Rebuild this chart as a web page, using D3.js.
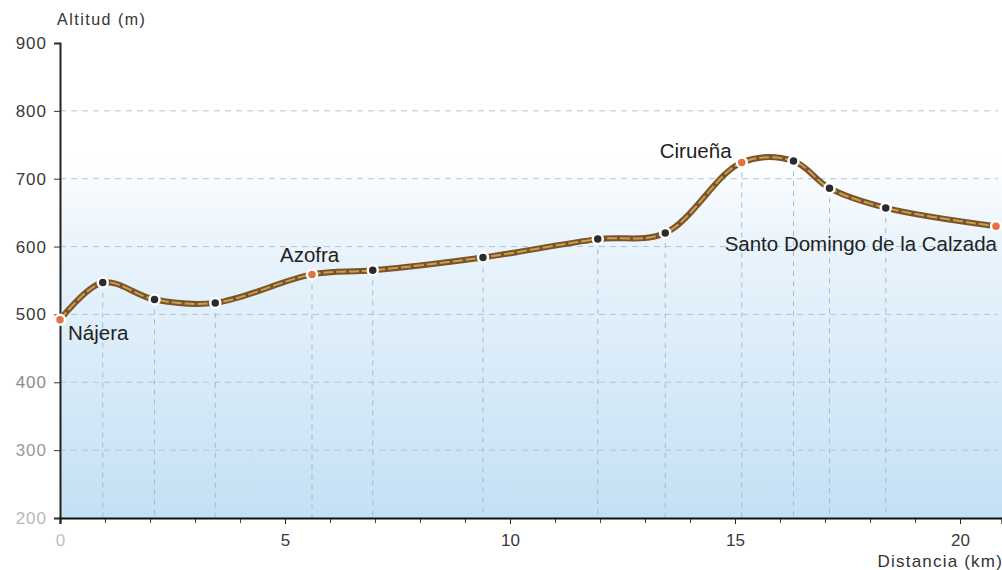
<!DOCTYPE html>
<html>
<head>
<meta charset="utf-8">
<script src="https://cdn.jsdelivr.net/npm/d3@7/dist/d3.min.js"></script>
<style>
  html, body { margin: 0; padding: 0; background: #fff; }
  svg { display: block; font-family: "Liberation Sans", Arial, sans-serif; }
</style>
</head>
<body>
<svg id="chart" width="1002" height="570"></svg>
<script>
// ---- data ----
const distKm = [0, 0.95, 2.1, 3.45, 5.6, 6.95, 9.4, 11.95, 13.45, 15.15, 16.3, 17.1, 18.35, 20.8];
const altM   = [492, 547, 522, 517, 559, 565, 584, 611, 620, 724, 726, 686, 657, 630];
const towns  = ["Nájera", "", "", "", "Azofra", "", "", "", "", "Cirueña", "", "", "", "Santo Domingo de la Calzada"];
const yTicks = [200, 300, 400, 500, 600, 700, 800, 900];
const yGrid  = [300, 400, 500, 600, 700, 800];
const xLabelTicks = [0, 5, 10, 15, 20];
const xMinorTicks = d3.range(0, 21, 1);

const svg = d3.select("#chart");
const x = d3.scaleLinear().domain([0, 942 / 45]).range([60, 1002]);
const y = d3.scaleLinear().domain([200, 900]).range([518, 43]);

const pts = distKm.map((d, i) => ({ d, a: altM[i], name: towns[i] }));

// background gradient
const defs = svg.append("defs");
const grad = defs.append("linearGradient").attr("id", "bg").attr("x1", 0).attr("y1", 0).attr("x2", 0).attr("y2", 1);
grad.append("stop").attr("offset", "0%").attr("stop-color", "#ffffff");
grad.append("stop").attr("offset", "24%").attr("stop-color", "#ffffff");
grad.append("stop").attr("offset", "42%").attr("stop-color", "#eaf4fc");
grad.append("stop").attr("offset", "100%").attr("stop-color", "#c4e0f4");
svg.append("rect").attr("x", x(0)).attr("y", y(900)).attr("width", x.range()[1] - x(0)).attr("height", y(200) - y(900)).attr("fill", "url(#bg)");

// horizontal grid
svg.append("g").selectAll("line").data(yGrid).join("line")
  .attr("x1", x(0)).attr("x2", x.range()[1] - 4)
  .attr("y1", d => y(d)).attr("y2", d => y(d))
  .attr("stroke", "#b3c5d2").attr("stroke-width", 1).attr("stroke-dasharray", "6,5");

// vertical grid at waypoints
svg.append("g").selectAll("line").data(pts.slice(1, -1)).join("line")
  .attr("x1", p => x(p.d)).attr("x2", p => x(p.d))
  .attr("y1", p => y(p.a)).attr("y2", y(200))
  .attr("stroke", "#a3bccd").attr("stroke-width", 1).attr("stroke-dasharray", "5,5");

// axes
const yAxis = d3.axisLeft(y).tickValues(yTicks).tickSize(6).tickPadding(7).tickFormat(d3.format("d"));
const gy = svg.append("g").attr("transform", `translate(${x(0)},0)`).call(yAxis);
gy.select(".domain").attr("stroke", "#222").attr("stroke-width", 2);
gy.selectAll(".tick line").attr("stroke", "#333");
const yCol = { 200: "#b8b8b8", 300: "#9a9a9a", 400: "#8a8a8a" };
gy.selectAll(".tick text").attr("font-size", 17).attr("letter-spacing", 1).attr("fill", d => yCol[d] || "#3a3a3a")
  .attr("font-family", "Liberation Sans, Arial, sans-serif");

const xAxisMinor = d3.axisBottom(x).tickValues(xMinorTicks).tickSize(5).tickFormat("");
const gxm = svg.append("g").attr("transform", `translate(0,${y(200)})`).call(xAxisMinor);
gxm.select(".domain").remove();
gxm.selectAll(".tick line").attr("stroke", "#444");

const xAxis = d3.axisBottom(x).tickValues(xLabelTicks).tickSize(6).tickPadding(10).tickFormat(d3.format("d"));
const gx = svg.append("g").attr("transform", `translate(0,${y(200)})`).call(xAxis);
gx.select(".domain").attr("stroke", "#111").attr("stroke-width", 2.2);
gx.selectAll(".tick line").attr("stroke", "#222");
gx.selectAll(".tick text").attr("font-size", 17).attr("fill", d => d === 0 ? "#c0c0c0" : "#3a3a3a")
  .attr("font-family", "Liberation Sans, Arial, sans-serif");

// axis titles
svg.append("text").attr("x", 57).attr("y", 25).attr("font-size", 16).attr("letter-spacing", 1.5).attr("fill", "#333").text("Altitud (m)");
svg.append("text").attr("x", 1003).attr("y", 567).attr("text-anchor", "end").attr("font-size", 17).attr("letter-spacing", 1.2).attr("fill", "#333").text("Distancia (km)");

// profile line
const line = d3.line().x(p => x(p.d)).y(p => y(p.a)).curve(d3.curveCatmullRom.alpha(0.5));
svg.append("path").datum(pts).attr("d", line).attr("fill", "none")
  .attr("stroke", "#7a5230").attr("stroke-width", 6).attr("stroke-linecap", "round");
svg.append("path").datum(pts).attr("d", line).attr("fill", "none")
  .attr("stroke", "#c9a23e").attr("stroke-width", 2).attr("stroke-dasharray", "10,3");

// points
svg.append("g").selectAll("circle").data(pts).join("circle")
  .attr("cx", p => x(p.d)).attr("cy", p => y(p.a)).attr("r", 5)
  .attr("fill", p => p.name ? "#e07446" : "#2b2b2b")
  .attr("stroke", "#fff").attr("stroke-width", 2.5);

// town labels
const labelPos = {
  "Nájera": { dx: 8, dy: 20, anchor: "start" },
  "Azofra": { dx: -32, dy: -12, anchor: "start" },
  "Cirueña": { dx: -82, dy: -4, anchor: "start" },
  "Santo Domingo de la Calzada": { dx: 1, dy: 25, anchor: "end" }
};
svg.append("g").selectAll("text").data(pts.filter(p => p.name)).join("text")
  .attr("x", p => x(p.d) + labelPos[p.name].dx)
  .attr("y", p => y(p.a) + labelPos[p.name].dy)
  .attr("text-anchor", p => labelPos[p.name].anchor)
  .attr("font-size", 20.5).attr("fill", "#222")
  .text(p => p.name);
</script>
</body>
</html>
